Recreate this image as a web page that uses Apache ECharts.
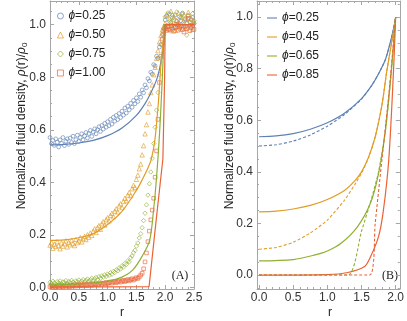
<!DOCTYPE html>
<html><head><meta charset="utf-8">
<script src="https://cdn.jsdelivr.net/npm/echarts@6/dist/echarts.min.js"></script>
<style>html,body{margin:0;padding:0;background:#fff}#c{width:407px;height:321px}</style>
</head><body><div id="c"></div>
<script>
// ---------- Panel (A) simulation points ----------
const rPts = [0,0.025,0.05,0.075,0.1,0.125,0.15,0.175,0.2,0.225,0.25,0.275,0.3,0.325,0.35,0.375,0.4,0.425,0.45,0.475,
0.5,0.525,0.55,0.575,0.6,0.625,0.65,0.675,0.7,0.725,0.75,0.775,0.8,0.825,0.85,0.875,0.9,0.925,0.95,0.975,
1.0,1.025,1.05,1.075,1.1,1.125,1.15,1.175,1.2,1.225,1.25,1.275,1.3,1.325,1.35,1.375,1.4,1.425,1.45,1.475,
1.5,1.525,1.55,1.575,1.6,1.625,1.65,1.675,1.7,1.725,1.75,1.775,1.8,1.825,1.85,1.875,1.9,1.925,1.95,1.975,
2.0,2.025,2.05,2.075,2.1,2.125,2.15,2.175,2.2,2.225,2.25,2.275,2.3,2.325,2.35,2.375,2.4,2.425,2.45,2.475,2.5];

const ptsBlue = [0.571,0.548,0.560,0.541,0.566,0.553,0.535,0.562,0.549,0.571,0.540,0.557,0.566,0.545,0.569,0.552,0.576,0.548,0.563,0.580,
0.556,0.571,0.585,0.562,0.577,0.590,0.569,0.586,0.598,0.575,0.592,0.604,0.585,0.601,0.612,0.594,0.617,0.603,0.625,0.610,
0.631,0.616,0.640,0.622,0.648,0.633,0.655,0.639,0.662,0.647,0.671,0.656,0.683,0.664,0.690,0.676,0.701,0.686,0.712,0.699,
0.722,0.708,0.737,0.724,0.752,0.741,0.771,0.760,0.795,0.786,0.819,0.812,0.848,0.843,0.880,0.872,0.915,0.925,0.962,0.985,
1.018,1.032,0.995,1.041,1.008,1.026,0.990,1.037,1.012,0.998,1.030,1.015,1.044,0.993,1.022,1.006,1.035,0.997,1.019,1.028,1.004];

const ptsOrange = [0.162,0.171,0.150,0.166,0.157,0.175,0.160,0.148,0.170,0.158,0.167,0.178,0.155,0.172,0.163,0.181,0.168,0.160,0.184,0.171,
0.178,0.190,0.174,0.186,0.195,0.183,0.201,0.192,0.208,0.199,0.215,0.224,0.210,0.229,0.236,0.222,0.243,0.251,0.238,0.259,
0.266,0.254,0.275,0.283,0.270,0.291,0.300,0.288,0.311,0.319,0.305,0.328,0.340,0.331,0.352,0.362,0.350,0.376,0.389,0.381,
0.412,0.428,0.452,0.470,0.505,0.540,0.585,0.620,0.668,0.700,0.742,0.771,0.810,0.838,0.872,0.901,0.935,0.958,0.980,0.992,
1.005,1.040,0.985,1.022,1.051,1.002,1.030,0.978,1.016,1.045,0.994,1.027,1.008,1.038,0.988,1.019,1.047,0.999,1.024,0.982,1.012];

const ptsGreen = [0.021,0.016,0.025,0.019,0.014,0.023,0.018,0.026,0.015,0.022,0.020,0.027,0.017,0.024,0.019,0.028,0.021,0.016,0.026,0.022,
0.029,0.019,0.025,0.031,0.022,0.028,0.033,0.024,0.030,0.036,0.027,0.034,0.039,0.031,0.042,0.036,0.045,0.040,0.049,0.043,
0.052,0.047,0.057,0.051,0.062,0.058,0.068,0.064,0.075,0.071,0.083,0.079,0.092,0.088,0.102,0.098,0.114,0.121,0.133,0.142,
0.158,0.170,0.189,0.205,0.228,0.255,0.283,0.315,0.352,0.395,0.440,0.492,0.548,0.610,0.675,0.742,0.810,0.872,0.925,0.962,
1.030,0.998,1.045,1.012,0.975,1.036,1.020,0.992,1.048,1.006,0.983,1.028,1.040,1.001,1.017,0.960,1.033,1.010,0.990,1.042,1.015];

const ptsRed = [0.004,0.008,0.003,0.006,0.002,0.007,0.004,0.009,0.005,0.003,0.008,0.005,0.010,0.006,0.004,0.009,0.007,0.011,0.006,0.009,
0.012,0.008,0.011,0.007,0.013,0.010,0.008,0.014,0.011,0.009,0.015,0.012,0.016,0.011,0.014,0.018,0.013,0.017,0.015,0.020,
0.016,0.019,0.022,0.017,0.021,0.024,0.019,0.023,0.026,0.021,0.025,0.028,0.023,0.027,0.031,0.026,0.030,0.034,0.029,0.033,
0.038,0.035,0.041,0.048,0.055,0.072,0.098,0.132,0.175,0.215,0.258,0.295,0.340,0.420,0.520,0.640,0.780,0.880,0.945,0.975,
0.985,0.978,0.992,0.980,0.996,0.983,0.975,0.990,1.002,0.979,0.987,0.996,0.981,0.972,0.993,0.984,1.024,0.977,0.989,0.998,0.982];

// ---------- Panel (A) theory curves ----------
const lineABlueR = [0,0.25,0.5,0.75,1.0,1.25,1.5,1.65,1.75,1.85,1.9,1.95,1.98,1.98,2.5];
const lineABlueV = [0.543,0.545,0.550,0.560,0.578,0.607,0.655,0.700,0.740,0.790,0.830,0.890,0.945,1.0,1.0];
const lineAOrangeR = [0,0.25,0.5,0.75,1.0,1.25,1.5,1.6,1.7,1.76,1.82,1.88,1.92,1.96,1.97,1.97,2.5];
const lineAOrangeV = [0.180,0.182,0.190,0.205,0.240,0.290,0.370,0.410,0.455,0.490,0.560,0.700,0.830,0.930,0.950,1.0,1.0];
const lineAGreenR = [0,0.5,1.0,1.25,1.44,1.6,1.73,1.8,1.85,1.9,1.94,1.97,1.98,1.98,2.5];
const lineAGreenV = [0.012,0.014,0.025,0.040,0.068,0.120,0.180,0.300,0.420,0.580,0.750,0.900,0.950,1.0,1.0];
const lineARedR = [0,1.0,1.72,1.84,1.96,1.99,2.0,2.5];
const lineARedV = [0.003,0.003,0.004,0.250,0.490,0.800,1.0,1.0];

// ---------- Panel (B) curves (solid and dashed) ----------
const bBlueSolidR = [0,0.25,0.5,0.75,1.0,1.25,1.5,1.65,1.75,1.85,1.92,1.97,2.0];
const bBlueSolidV = [0.536,0.539,0.548,0.565,0.590,0.627,0.684,0.735,0.780,0.835,0.900,0.955,1.0];
const bBlueDashR = [0,0.25,0.5,0.75,1.0,1.25,1.5,1.65,1.75,1.85,1.92,1.97,2.0];
const bBlueDashV = [0.500,0.505,0.519,0.543,0.577,0.622,0.682,0.735,0.780,0.835,0.900,0.955,1.0];
const bOrangeSolidR = [0,0.25,0.5,0.75,1.0,1.25,1.4,1.5,1.6,1.7,1.8,1.87,1.95,2.0];
const bOrangeSolidV = [0.245,0.248,0.256,0.270,0.293,0.328,0.365,0.400,0.455,0.535,0.660,0.790,0.915,1.0];
const bOrangeDashR = [0,0.25,0.5,0.75,1.0,1.25,1.4,1.5,1.6,1.7,1.8,1.87,1.95,2.0];
const bOrangeDashV = [0.100,0.107,0.127,0.163,0.213,0.290,0.350,0.395,0.452,0.535,0.660,0.790,0.915,1.0];
const bGreenSolidR = [0,0.5,0.82,1.0,1.2,1.44,1.63,1.75,1.85,1.94,2.0];
const bGreenSolidV = [0.055,0.060,0.078,0.093,0.123,0.187,0.278,0.394,0.560,0.800,1.0];
const bGreenDashR = [0,1.3,1.5,1.65,1.75,1.85,1.94,2.0];
const bGreenDashV = [0,0,0.170,0.300,0.400,0.560,0.800,1.0];
const bRedSolidR = [0,1.0,1.3,1.54,1.63,1.75,1.82,1.9,1.97,2.0];
const bRedSolidV = [0.0,0.002,0.010,0.032,0.070,0.150,0.250,0.450,0.800,1.0];
const bRedDashR = [0,1.62,1.7,1.8,1.9,2.0];
const bRedDashV = [0,0,0.200,0.450,0.700,1.0];

// ---------- Names and ticks ----------
const namesA = ['ϕ=0.25','ϕ=0.50','ϕ=0.75','ϕ=1.00'];
const namesB = ['ϕ=0.25','ϕ=0.45','ϕ=0.65','ϕ=0.85'];
const xTicksA = [0,0.5,1.0,1.5,2.0,2.5];
const yTicks = [0,0.2,0.4,0.6,0.8,1.0];
const xTicksB = [0,0.5,1.0,1.5,2.0];

const COLORS = ['#5E81B5','#E19C24','#8FB032','#EB6235'];
const FRAME = '#a6a6a6';
const LABEL = '#333';
const FONT = '"Liberation Sans", Arial, sans-serif';

function minorTicks(lo, hi, step){ const a=[]; for(let v=lo; v<=hi+1e-9; v+=step){ a.push(Math.round(v*1000)/1000);} return a; }

function axisSet(dim, g, min, max, major, minor, sides){
  const out = [];
  sides.forEach((pos, k) => {
    const labeled = k === 0;
    out.push({type:'value', gridIndex:g, position:pos, min, max,
      axisLine:{show:true, onZero:false, lineStyle:{color:FRAME, width:1}},
      axisTick:{show:true, inside:true, length:4, customValues:major, lineStyle:{color:FRAME, width:1}},
      axisLabel:{show:labeled, customValues:major, formatter:v=>(+v).toFixed(1), margin: dim==='x'?3:4,
        color:LABEL, fontSize:12, fontFamily:FONT},
      splitLine:{show:false}});
    out.push({type:'value', gridIndex:g, position:pos, min, max,
      axisLine:{show:false, onZero:false},
      axisTick:{show:true, inside:true, length:2, customValues:minor, lineStyle:{color:FRAME, width:1}},
      axisLabel:{show:false}, splitLine:{show:false}});
  });
  return out;
}

const xAxis = [].concat(
  axisSet('x',0,0,2.5,xTicksA,minorTicks(0,2.5,0.1),['bottom','top']),
  axisSet('x',1,-0.03,2.06,xTicksB,minorTicks(0,2.0,0.1),['bottom','top'])
);
const yAxis = [].concat(
  axisSet('y',0,-0.005,1.09,yTicks,minorTicks(0,1.05,0.05),['left','right']),
  axisSet('y',1,-0.054,1.062,yTicks,minorTicks(-0.05,1.05,0.05),['left','right'])
);

const zip = (r,v) => r.map((x,i)=>[x,v[i]]);
const series = [];
const ptsAll = [ptsBlue, ptsOrange, ptsGreen, ptsRed];
const symbols = ['circle','triangle','diamond','rect'];
const sizes = [3.8,4.4,4.4,3.6];
ptsAll.forEach((vals,i)=>{
  series.push({type:'scatter', name:namesA[i], xAxisIndex:0, yAxisIndex:0, data:zip(rPts, vals),
    symbol:symbols[i], symbolSize:sizes[i], clip:true,
    itemStyle:{color:'rgba(255,255,255,0)', borderColor:COLORS[i], borderWidth:0.8}, z:2});
});
const linesA = [[lineABlueR,lineABlueV],[lineAOrangeR,lineAOrangeV],[lineAGreenR,lineAGreenV],[lineARedR,lineARedV]];
linesA.forEach((p,i)=>{
  series.push({type:'line', name:'A-theory-'+i, xAxisIndex:0, yAxisIndex:0, data:zip(p[0],p[1]),
    showSymbol:false, symbol:'none', smooth:i===3?0:0.3, clip:true, lineStyle:{color:COLORS[i], width:1.2}, z:3});
});
const solidB = [[bBlueSolidR,bBlueSolidV],[bOrangeSolidR,bOrangeSolidV],[bGreenSolidR,bGreenSolidV],[bRedSolidR,bRedSolidV]];
const dashB = [[bBlueDashR,bBlueDashV],[bOrangeDashR,bOrangeDashV],[bGreenDashR,bGreenDashV],[bRedDashR,bRedDashV]];
solidB.forEach((p,i)=>{
  series.push({type:'line', name:namesB[i]+'\u200b', xAxisIndex:4, yAxisIndex:4, data:zip(p[0],p[1]),
    showSymbol:false, symbol:'none', smooth:0.3, clip:true, color:COLORS[i],
    itemStyle:{color:COLORS[i]}, lineStyle:{color:COLORS[i], width:1.2}, z:3});
});
dashB.forEach((p,i)=>{
  series.push({type:'line', name:'B-dash-'+i, xAxisIndex:4, yAxisIndex:4, data:zip(p[0],p[1]),
    showSymbol:false, symbol:'none', smooth:0.2, clip:true,
    lineStyle:{color:COLORS[i], width:1.1, type:[3,2]}, z:3});
});

const legText = {fontSize:12, color:'#222', fontFamily:FONT, lineHeight:14,
  rich:{i:{fontStyle:'italic', fontSize:12, fontFamily:FONT, color:'#222'}}};

const ylabel = 'Normalized fluid density, {i|ρ}(r)/{i|ρ}{sub|0}';
const yRich = {i:{fontStyle:'italic', fontSize:12, fontFamily:FONT, fill:'#222'}, sub:{fontSize:8, fontFamily:FONT, verticalAlign:'bottom', padding:[6,0,0,0], fill:'#222'}};

const option = {
  animation:false,
  backgroundColor:'#fff',
  grid:[{left:50, top:1, width:144, height:288}, {left:257, top:1, width:146, height:288}],
  xAxis, yAxis, series,
  legend:[
    {data:namesA, orient:'vertical', left:52, top:4, itemWidth:6, itemHeight:6, itemGap:5, selectedMode:false,
     itemStyle:{color:'rgba(255,255,255,0)', borderWidth:0.9},
     textStyle:legText, formatter:n=>'{i|ϕ}'+n.slice(1)},
    {data:namesB.map(n=>n+'\u200b'), orient:'vertical', left:262, top:6, itemWidth:10, itemHeight:2, itemGap:5,
     icon:'rect', selectedMode:false, itemStyle:{opacity:0.55},
     textStyle:legText, formatter:n=>'{i|ϕ}'+n.replace('\u200b','').slice(1)}
  ],
  graphic:[
    {type:'text', x:22, y:126, rotation:Math.PI/2, style:{text:ylabel, font:'12px '+FONT, fill:'#222', align:'center', verticalAlign:'middle', rich:yRich}},
    {type:'text', x:230, y:126, rotation:Math.PI/2, style:{text:ylabel, font:'12px '+FONT, fill:'#222', align:'center', verticalAlign:'middle', rich:yRich}},
    {type:'text', x:122, y:313, style:{text:'r', font:'12px '+FONT, fill:'#222', align:'center', verticalAlign:'middle'}},
    {type:'text', x:330, y:313, style:{text:'r', font:'12px '+FONT, fill:'#222', align:'center', verticalAlign:'middle'}},
    {type:'text', x:180, y:276, style:{text:'(A)', font:'12px "Liberation Serif", "Times New Roman", serif', fill:'#222', align:'center', verticalAlign:'middle'}},
    {type:'text', x:390, y:276, style:{text:'(B)', font:'12px "Liberation Serif", "Times New Roman", serif', fill:'#222', align:'center', verticalAlign:'middle'}}
  ]
};
const chart = echarts.init(document.getElementById('c'), null, {renderer:'canvas'});
chart.setOption(option);
</script></body></html>
